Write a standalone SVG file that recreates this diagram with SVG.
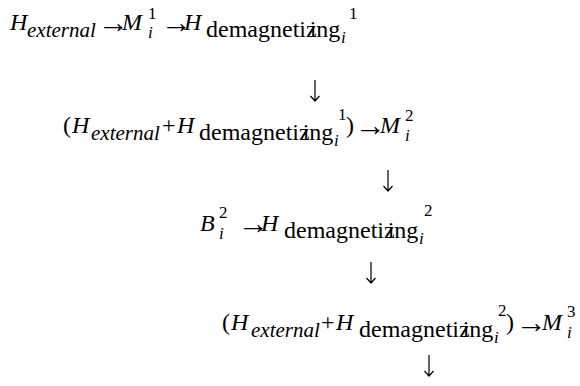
<svg xmlns="http://www.w3.org/2000/svg" width="580" height="386" viewBox="0 0 580 386">
<defs>
<style>
.m{font-size:24px;font-style:italic}
.r{font-size:24px}
.a{font-size:31px}
.s{font-size:21px;font-style:italic}
.d{font-size:24px}
.n{font-size:17px}
.i{font-size:17px;font-style:italic}
</style>
</defs>
<rect width="580" height="386" fill="#fff"/>
<g id="step1">
<text style="font-family:'Liberation Serif',serif !important" class="m" x="10" y="30">H</text>
<text style="font-family:'Liberation Serif',serif !important" class="s" x="27" y="37">external</text>
<text style="font-family:'Liberation Serif',serif !important" class="a" x="98" y="33">→</text>
<text style="font-family:'Liberation Serif',serif !important" class="m" x="122" y="30">M</text>
<text style="font-family:'Liberation Serif',serif !important" class="n" x="148" y="19">1</text>
<text style="font-family:'Liberation Serif',serif !important" class="i" x="148" y="38">i</text>
<text style="font-family:'Liberation Serif',serif !important" class="a" x="161" y="33">→</text>
<text style="font-family:'Liberation Serif',serif !important" class="m" x="184" y="30">H</text>
<text style="font-family:'Liberation Serif',serif !important" class="d" x="206" y="37">demagneti<tspan>z</tspan><tspan dx="-7">i</tspan>ng</text>
<text style="font-family:'Liberation Serif',serif !important" class="i" x="341" y="43">i</text>
<text style="font-family:'Liberation Serif',serif !important" class="n" x="349" y="19">1</text>
</g>
<g id="step2">
<text style="font-family:'Liberation Serif',serif !important" class="r" x="63" y="133">(</text>
<text style="font-family:'Liberation Serif',serif !important" class="m" x="72" y="133">H</text>
<text style="font-family:'Liberation Serif',serif !important" class="s" x="91" y="140">external</text>
<text style="font-family:'Liberation Serif',serif !important" class="r" x="162" y="133">+</text>
<text style="font-family:'Liberation Serif',serif !important" class="m" x="177" y="133">H</text>
<text style="font-family:'Liberation Serif',serif !important" class="d" x="199" y="140">demagneti<tspan>z</tspan><tspan dx="-7">i</tspan>ng</text>
<text style="font-family:'Liberation Serif',serif !important" class="i" x="334" y="146">i</text>
<text style="font-family:'Liberation Serif',serif !important" class="n" x="338" y="120">1</text>
<text style="font-family:'Liberation Serif',serif !important" class="r" x="346" y="133">)</text>
<text style="font-family:'Liberation Serif',serif !important" class="a" x="355" y="136">→</text>
<text style="font-family:'Liberation Serif',serif !important" class="m" x="380" y="133">M</text>
<text style="font-family:'Liberation Serif',serif !important" class="n" x="405" y="121">2</text>
<text style="font-family:'Liberation Serif',serif !important" class="i" x="405" y="141">i</text>
</g>
<g id="step3">
<text style="font-family:'Liberation Serif',serif !important" class="m" x="200" y="231">B</text>
<text style="font-family:'Liberation Serif',serif !important" class="n" x="219" y="218">2</text>
<text style="font-family:'Liberation Serif',serif !important" class="i" x="219" y="239">i</text>
<text style="font-family:'Liberation Serif',serif !important" class="a" x="238" y="234">→</text>
<text style="font-family:'Liberation Serif',serif !important" class="m" x="261" y="231">H</text>
<text style="font-family:'Liberation Serif',serif !important" class="d" x="284" y="238">demagneti<tspan>z</tspan><tspan dx="-7">i</tspan>ng</text>
<text style="font-family:'Liberation Serif',serif !important" class="i" x="419" y="244">i</text>
<text style="font-family:'Liberation Serif',serif !important" class="n" x="424" y="216">2</text>
</g>
<g id="step4">
<text style="font-family:'Liberation Serif',serif !important" class="r" x="222" y="330">(</text>
<text style="font-family:'Liberation Serif',serif !important" class="m" x="231" y="330">H</text>
<text style="font-family:'Liberation Serif',serif !important" class="s" x="251" y="337">external</text>
<text style="font-family:'Liberation Serif',serif !important" class="r" x="321" y="330">+</text>
<text style="font-family:'Liberation Serif',serif !important" class="m" x="336" y="330">H</text>
<text style="font-family:'Liberation Serif',serif !important" class="d" x="359" y="337">demagneti<tspan>z</tspan><tspan dx="-7">i</tspan>ng</text>
<text style="font-family:'Liberation Serif',serif !important" class="i" x="494" y="343">i</text>
<text style="font-family:'Liberation Serif',serif !important" class="n" x="498" y="316">2</text>
<text style="font-family:'Liberation Serif',serif !important" class="r" x="506" y="330">)</text>
<text style="font-family:'Liberation Serif',serif !important" class="a" x="516" y="333">→</text>
<text style="font-family:'Liberation Serif',serif !important" class="m" x="542" y="330">M</text>
<text style="font-family:'Liberation Serif',serif !important" class="n" x="567" y="317">3</text>
<text style="font-family:'Liberation Serif',serif !important" class="i" x="567" y="338">i</text>
</g>
<g id="connectors" stroke="#000" stroke-width="1.2" fill="none">
<path d="M315,80 V101 M310.5,96 L315,101 L319.5,96"/>
<path d="M388,170 V191 M383.5,186 L388,191 L392.5,186"/>
<path d="M371,262 V283 M366.5,278 L371,283 L375.5,278"/>
<path d="M429,355 V376 M424.5,371 L429,376 L433.5,371"/>
</g>
</svg>
